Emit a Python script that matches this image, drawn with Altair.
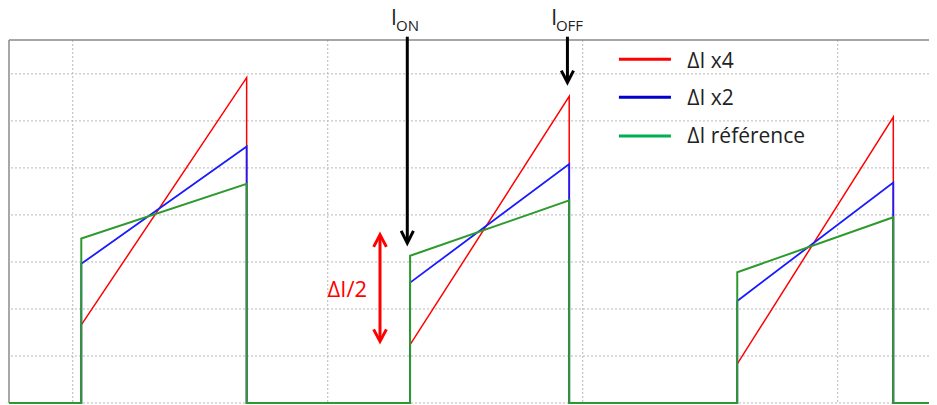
import altair as alt
import pandas as pd

# ---- data (time in arbitrary units, grid every 10) ----
rise_t = [2.835, 15.73, 28.56]
fall_t = [9.32, 21.97, 34.68]
t_end = 36.08
v_top = 7.72

ref_start = [3.50, 3.13, 2.78]
ref_end = [4.66, 4.31, 3.95]
x2_start = [2.96, 2.56, 2.17]
x2_end = [5.455, 5.08, 4.69]
x4_start = [1.66, 1.24, 0.83]
x4_end = [6.92, 6.52, 6.08]

series_names = ["ΔI x4", "ΔI x2", "ΔI référence"]
series_colors = ["#ff0000", "#1a1aff", "#2e9a2e"]
series_widths = [1.5, 1.8, 2.0]
legend_colors = ["#ff0000", "#0000cc", "#00b050"]
legend_y_line = [7.31, 6.505, 5.68]
legend_y_text = [7.134, 6.33, 5.52]
legend_x = [23.92, 25.96, 26.6]

grid_x = [2.5, 12.5, 22.5, 32.5]
grid_y = [0, 1, 2, 3, 4, 5, 6, 7]

# arrows: (id, colour, t list, v list)
arrow_ids = ["on", "on_h", "off", "off_h", "dI", "dI_top", "dI_bot"]
arrow_cols = ["#000000", "#000000", "#000000", "#000000", "#ff0000", "#ff0000", "#ff0000"]
arrow_t = [[15.62, 15.62], [15.38, 15.62, 15.86], [21.9, 21.9], [21.66, 21.9, 22.14],
           [14.55, 14.55], [14.30, 14.55, 14.80], [14.30, 14.55, 14.80]]
arrow_v = [[7.79, 3.42], [3.66, 3.40, 3.66], [7.79, 6.835], [7.07, 6.815, 7.07],
           [3.56, 1.33], [3.32, 3.578, 3.32], [1.565, 1.31, 1.565]]

# annotation text
ann_text = ["I", "ON", "I", "OFF"]
ann_t = [14.98, 15.18, 21.27, 21.45]
ann_v = [8.04, 7.92, 8.04, 7.92]
ann_size = [21, 15, 21, 15]
dI_text = "ΔI/2"
dI_t = 13.27
dI_v = 2.245

W, H = 920, 363
xs = alt.Scale(domain=[0, t_end])
ys = alt.Scale(domain=[0, v_top])
X = lambda f: alt.X(f, scale=xs, axis=None)
Y = lambda f: alt.Y(f, scale=ys, axis=None)


def wave(starts, ends):
    ts, vs = [0.0], [0.0]
    for r, f, s, e in zip(rise_t, fall_t, starts, ends):
        ts += [r, r, f, f]
        vs += [0.0, s, e, 0.0]
    ts.append(t_end)
    vs.append(0.0)
    return pd.DataFrame({"t": ts, "v": vs, "o": list(range(len(ts)))})


layers = []

# dotted grid
gx = pd.DataFrame({"t": grid_x})
gy = pd.DataFrame({"v": grid_y})
layers.append(alt.Chart(gx).mark_rule(color="#b8b8b8", strokeDash=[2, 2], strokeWidth=1).encode(
    x=X("t:Q")))
layers.append(alt.Chart(gy).mark_rule(color="#b8b8b8", strokeDash=[2, 2], strokeWidth=1).encode(
    y=Y("v:Q")))

# frame (top and left)
frame = pd.DataFrame({"t": [0, 0], "t2": [t_end, 0], "v": [v_top, 0], "v2": [v_top, v_top]})
layers.append(alt.Chart(frame).mark_rule(color="#8a8a8a", strokeWidth=1.5).encode(
    x=X("t:Q"), x2="t2:Q", y=Y("v:Q"), y2="v2:Q"))

starts = [x4_start, x2_start, ref_start]
ends = [x4_end, x2_end, ref_end]
for i in range(3):
    df = wave(starts[i], ends[i])
    layers.append(alt.Chart(df).mark_line(color=series_colors[i], strokeWidth=series_widths[i],
                                           strokeJoin="miter").encode(
        x=X("t:Q"), y=Y("v:Q"), order="o:Q"))

# arrows
rows = []
for aid, col, tl, vl in zip(arrow_ids, arrow_cols, arrow_t, arrow_v):
    for k, (a, b) in enumerate(zip(tl, vl)):
        rows.append({"id": aid, "c": col, "t": a, "v": b, "o": k})
arr = pd.DataFrame(rows)
layers.append(alt.Chart(arr).mark_line(strokeWidth=3, strokeJoin="miter", strokeCap="butt").encode(
    x=X("t:Q"), y=Y("v:Q"), detail="id:N", order="o:Q",
    color=alt.Color("c:N", scale=None)))

# annotation texts
ann = pd.DataFrame({"t": ann_t, "v": ann_v, "s": ann_size, "txt": ann_text})
layers.append(alt.Chart(ann).mark_text(align="left", baseline="alphabetic", font="Open Sans",
                                       color="#222222").encode(
    x=X("t:Q"), y=Y("v:Q"), text="txt:N", size=alt.Size("s:Q", scale=None)))
dI = pd.DataFrame({"t": [dI_t], "v": [dI_v], "txt": [dI_text]})
layers.append(alt.Chart(dI).mark_text(align="center", baseline="alphabetic", font="Open Sans",
                                      fontSize=22, color="#ff0000").encode(
    x=X("t:Q"), y=Y("v:Q"), text="txt:N"))

# legend
leg = pd.DataFrame({"name": series_names, "c": legend_colors, "yl": legend_y_line,
                    "yt": legend_y_text, "x1": [legend_x[0]] * 3, "x2": [legend_x[1]] * 3,
                    "xt": [legend_x[2]] * 3})
layers.append(alt.Chart(leg).mark_rule(strokeWidth=3).encode(
    x=X("x1:Q"), x2="x2:Q", y=Y("yl:Q"), color=alt.Color("c:N", scale=None)))
layers.append(alt.Chart(leg).mark_text(align="left", baseline="alphabetic", font="Open Sans",
                                       fontSize=21, color="#222222").encode(
    x=X("xt:Q"), y=Y("yt:Q"), text="name:N"))

chart = alt.layer(*layers).properties(
    width=W, height=H,
    autosize=alt.AutoSizeParams(type="none"),
    padding={"left": 1, "top": 32, "right": 0, "bottom": 2},
    background="white",
).configure_view(stroke=None)

chart.save("out.html", embed_options={"renderer": "svg", "actions": False})
